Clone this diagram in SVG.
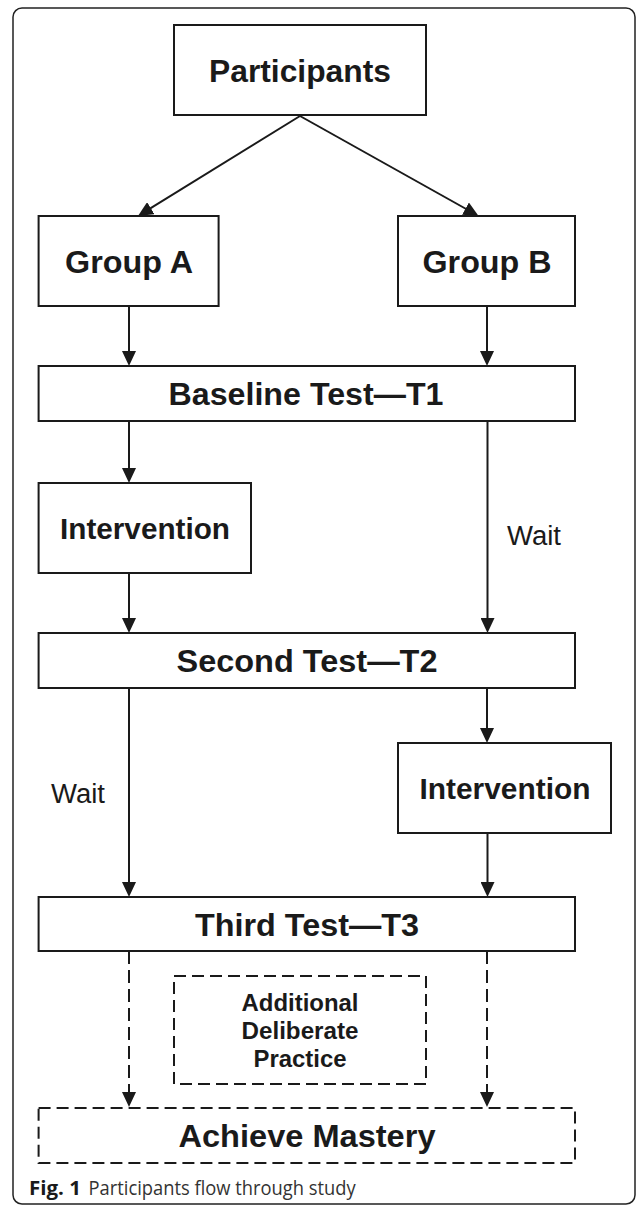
<svg xmlns="http://www.w3.org/2000/svg" width="637" height="1210" viewBox="0 0 637 1210">
<defs>
<marker id="ah" viewBox="0 0 15 14" markerWidth="15" markerHeight="14" refX="11" refY="7" orient="auto" markerUnits="userSpaceOnUse">
<path d="M0,0 L15,7 L0,14 z" fill="#1a1a1a"/>
</marker>
<style>
.box{fill:#fff;stroke:#1a1a1a;stroke-width:2}
.dbox{fill:#fff;stroke:#1a1a1a;stroke-width:2;stroke-dasharray:12 6}
.t{font-family:"Liberation Sans",Arial,sans-serif;font-weight:bold;font-size:32px;fill:#1a1a1a;text-anchor:middle}
.ti{font-family:"Liberation Sans",Arial,sans-serif;font-weight:bold;font-size:30px;fill:#1a1a1a;text-anchor:middle}
.ts{font-family:"Liberation Sans",Arial,sans-serif;font-weight:bold;font-size:24px;fill:#1a1a1a;text-anchor:middle}
.w{font-family:"Liberation Sans",Arial,sans-serif;font-size:27px;fill:#1a1a1a}
.c{fill:none;stroke:#1a1a1a;stroke-width:2}
.cd{fill:none;stroke:#1a1a1a;stroke-width:2;stroke-dasharray:13 6}
.cap{font-family:"Open Sans","Noto Sans",sans-serif;font-size:19.5px;fill:#333}
</style>
</defs>
<rect x="13" y="8" width="622" height="1196" rx="9" fill="#fff" stroke="#222" stroke-width="1.5"/>
<g id="connectors">
<path class="c" d="M300,116 L141.4,213.9" marker-end="url(#ah)"/>
<path class="c" d="M300,116 L475.1,214" marker-end="url(#ah)"/>
<path class="c" d="M129,306 V362" marker-end="url(#ah)"/>
<path class="c" d="M487,306 V362" marker-end="url(#ah)"/>
<path class="c" d="M129,421 V479" marker-end="url(#ah)"/>
<path class="c" d="M129,573 V629" marker-end="url(#ah)"/>
<path class="c" d="M487.5,421 V629" marker-end="url(#ah)"/>
<path class="c" d="M129,688 V893" marker-end="url(#ah)"/>
<path class="c" d="M487,686 V739" marker-end="url(#ah)"/>
<path class="c" d="M487.5,833 V893" marker-end="url(#ah)"/>
<path class="cd" d="M129,951 V1103" marker-end="url(#ah)"/>
<path class="cd" d="M487,951 V1103" marker-end="url(#ah)"/>
<text class="w" x="507" y="545" textLength="54" lengthAdjust="spacingAndGlyphs">Wait</text>
<text class="w" x="51" y="803" textLength="54" lengthAdjust="spacingAndGlyphs">Wait</text>
</g>
<g id="participants">
<rect class="box" x="174" y="25" width="252" height="90"/>
<text class="t" x="300" y="81.5" textLength="182" lengthAdjust="spacingAndGlyphs">Participants</text>
</g>
<g id="groupA">
<rect class="box" x="38.6" y="216" width="180" height="90"/>
<text class="t" x="129" y="273" textLength="128" lengthAdjust="spacingAndGlyphs">Group A</text>
</g>
<g id="groupB">
<rect class="box" x="398" y="216" width="177" height="90"/>
<text class="t" x="487" y="273" textLength="129" lengthAdjust="spacingAndGlyphs">Group B</text>
</g>
<g id="t1">
<rect class="box" x="38.6" y="366" width="536.4" height="55"/>
<text class="t" x="306" y="405" textLength="275" lengthAdjust="spacingAndGlyphs">Baseline Test—T1</text>
</g>
<g id="interventionA">
<rect class="box" x="38.6" y="483" width="212.4" height="90"/>
<text class="ti" x="145" y="539" textLength="170" lengthAdjust="spacingAndGlyphs">Intervention</text>
</g>
<g id="t2">
<rect class="box" x="38.6" y="633" width="536.4" height="55"/>
<text class="t" x="307" y="672" textLength="261" lengthAdjust="spacingAndGlyphs">Second Test—T2</text>
</g>
<g id="interventionB">
<rect class="box" x="398" y="743" width="213" height="90"/>
<text class="ti" x="505" y="799" textLength="171" lengthAdjust="spacingAndGlyphs">Intervention</text>
</g>
<g id="t3">
<rect class="box" x="38.6" y="897" width="536.4" height="54"/>
<text class="t" x="307" y="935.5" textLength="224" lengthAdjust="spacingAndGlyphs">Third Test—T3</text>
</g>
<g id="practice">
<rect class="dbox" x="174" y="976" width="252" height="108"/>
<text class="ts" x="300" y="1011" textLength="117" lengthAdjust="spacingAndGlyphs">Additional</text>
<text class="ts" x="300" y="1039" textLength="117" lengthAdjust="spacingAndGlyphs">Deliberate</text>
<text class="ts" x="300" y="1067" textLength="93" lengthAdjust="spacingAndGlyphs">Practice</text>
</g>
<g id="mastery">
<rect class="dbox" x="38.6" y="1108" width="536.4" height="55"/>
<text class="t" x="307" y="1147" textLength="257" lengthAdjust="spacingAndGlyphs">Achieve Mastery</text>
</g>
<g id="caption">
<text class="cap" y="1195"><tspan x="29" font-weight="bold" fill="#1a1a1a" textLength="52" lengthAdjust="spacingAndGlyphs">Fig. 1</tspan><tspan x="88.6" textLength="267" lengthAdjust="spacingAndGlyphs">Participants flow through study</tspan></text>
</g>
</svg>
